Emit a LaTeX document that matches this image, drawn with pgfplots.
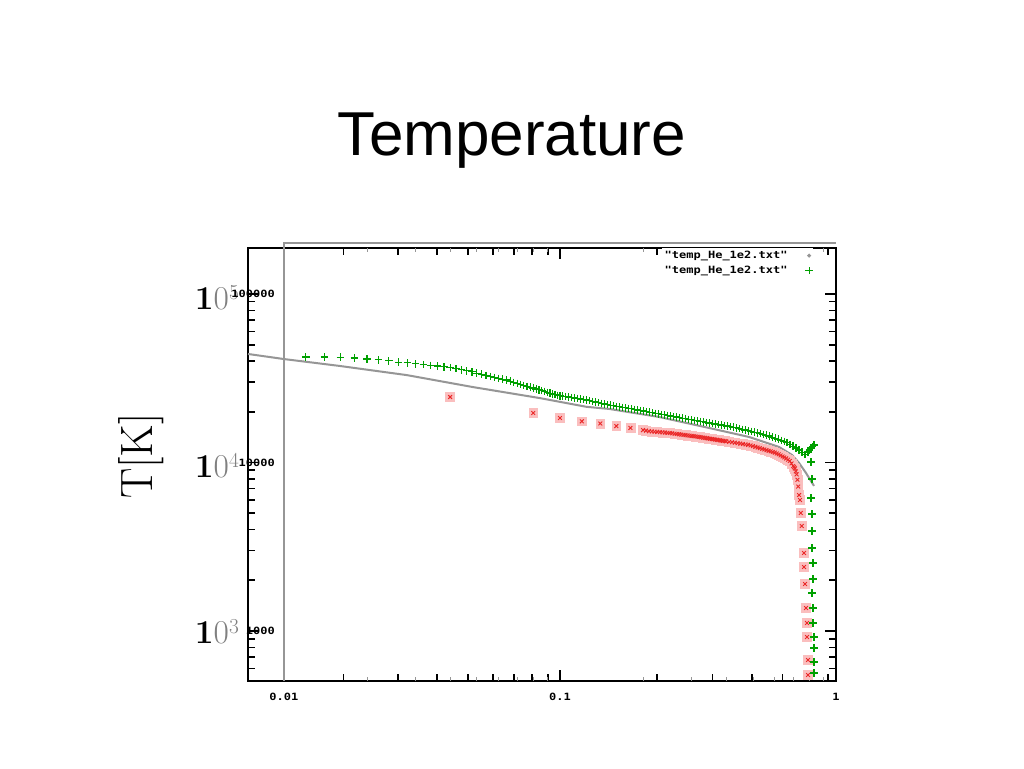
\documentclass[border=0pt]{standalone}
\usepackage{pgfplots}
\usepackage{pgfplotstable}
\pgfplotsset{compat=1.18}
\usepackage{fontspec}
\newfontfamily\titlefont{Liberation Sans}
\newfontfamily\gpfont[FakeStretch=1.2,Ligatures=TeXOff]{DejaVu Sans Mono Bold}

\definecolor{gpgreen}{RGB}{0,160,0}
\definecolor{gpred}{RGB}{235,40,40}
\definecolor{gppink}{RGB}{250,190,190}
\definecolor{gpgray}{RGB}{150,150,150}

\newcommand{\gp}{\gpfont\fontsize{7.5}{9}\selectfont}
\newcommand{\bigexp}[1]{\textbf{1}\textcolor{gray}{0}\raisebox{7.5pt}{\fontsize{16}{18}\selectfont\textcolor{gray}{#1}}}

% red series (boxed crosses)
\pgfplotstableread{
x y
0.04 24470
0.08 19670
0.10 18370
0.12 17550
0.14 17030
0.16 16450
0.18 16030
0.20 15570
0.205 15455
0.21 15340
0.215 15285
0.22 15230
0.225 15180
0.23 15130
0.235 15090
0.24 15050
0.245 15005
0.25 14960
0.255 14895
0.26 14830
0.265 14765
0.27 14700
0.275 14645
0.28 14590
0.285 14535
0.29 14480
0.295 14425
0.30 14370
0.305 14320
0.31 14270
0.315 14220
0.32 14170
0.325 14110
0.33 14050
0.335 13995
0.34 13940
0.345 13885
0.35 13830
0.355 13780
0.36 13730
0.365 13680
0.37 13630
0.375 13585
0.38 13540
0.385 13490
0.39 13440
0.395 13400
0.40 13355
0.41 13265
0.42 13180
0.43 13100
0.44 13020
0.45 12945
0.46 12870
0.47 12800
0.48 12730
0.49 12620
0.50 12510
0.51 12390
0.52 12270
0.53 12160
0.54 12050
0.55 11945
0.56 11840
0.57 11740
0.58 11640
0.59 11545
0.60 11450
0.61 11310
0.62 11170
0.63 11015
0.64 10860
0.65 10715
0.66 10570
0.67 10390
0.68 10210
0.69 9870
0.70 9530
0.705 9375
0.71 9220
0.715 8860
0.72 8500
0.725 7900
0.73 7200
0.735 6413
0.7407 5991
0.7457 5014
0.7519 4199
0.7662 2903
0.7662 2398
0.7726 1901
0.7788 1369
0.7853 1116
0.7853 921
0.7921 673
0.7921 548
}\redtab

\begin{document}
\begin{tikzpicture}
\fill[white] (0,0) rectangle (768pt,576pt);
\useasboundingbox (0,0) rectangle (768pt,576pt);

\node[anchor=base, font=\titlefont\fontsize{46.5}{52}\selectfont] at (384pt,459pt) {Temperature};
\node[rotate=90, anchor=base, font=\fontsize{34}{40}\selectfont] at (114pt,234pt) {T[K]};

% large exponent labels
\node[anchor=base west, inner sep=0pt, font=\fontsize{25}{30}\selectfont] at (146pt,343.5pt) {\bigexp{5}};
\node[anchor=base west, inner sep=0pt, font=\fontsize{25}{30}\selectfont] at (146pt,217.5pt) {\bigexp{4}};
\node[anchor=base west, inner sep=0pt, font=\fontsize{25}{30}\selectfont] at (146pt,93.75pt) {\bigexp{3}};

\begin{axis}[
  at={(186pt,65.25pt)}, anchor=south west,
  scale only axis, width=441pt, height=324.75pt,
  xmode=log, ymode=log,
  xmin=0.00741, xmax=1, ymin=505, ymax=187500,
  clip=false,
  tick pos=both,
  axis line style={line width=1.5pt},
  every tick/.style={black, line width=1.2pt},
  major tick length=8pt, minor tick length=5pt,
  xtick={0.01,0.1,1}, xticklabels={0.01,0.1,1},
  minor xtick={0.01646,0.0259,0.03593,0.04637,0.05706,0.06801,0.07912,0.09057,
               0.2248,0.3569,0.4952,0.6390,0.7863,0.9371},
  extra x ticks={0.02,0.03,0.04,0.05,0.06,0.07,0.08,0.09,0.2,0.3,0.4,0.5,0.6,0.7,0.8,0.9},
  extra x tick labels={},
  extra x tick style={major tick length=3pt, tick style={gpgray, line width=0.6pt}},
  ytick={1000,10000,100000}, yticklabels={1000,10000,100000},
  minor ytick={600,700,800,900,2000,3000,4000,5000,6000,7000,8000,9000,
               20000,30000,40000,50000,60000,70000,80000,90000},
  xticklabel style={font=\gp, inner sep=0pt, anchor=north, yshift=-9pt},
  yticklabel style={font=\gp, inner sep=0pt, anchor=east, xshift=20.25pt},
  legend style={draw=none, fill=white, at={(0.962,1.0)}, anchor=north east,
                font=\gp, inner sep=0pt, row sep=0pt, column sep=11pt, cells={anchor=east}},
  legend plot pos=right,
  legend cell align=right,
]

% red points: pink boxes first, crosses on top
\addplot[only marks, mark=square*, mark size=3.3pt,
  mark options={fill=gppink, draw=gppink}, forget plot] table {\redtab};
\addplot[only marks, mark=x, mark size=2pt, gpred, line width=0.7pt, forget plot] table {\redtab};

% grey curve
\addplot[gpgray, line width=1.5pt, mark=none,
  legend image code/.code={\fill[gpgray] (0.3cm,0cm) circle (0.6pt);}] table {
x y
0.00741 44060
0.0100 41100
0.01594 37400
0.0279 33000
0.0483 28040
0.0843 24130
0.1247 21400
0.151 20780
0.2289 18620
0.3473 16020
0.4844 14170
0.622 12360
0.6934 11080
0.735 9930
0.7788 8660
0.8323 7260
};
\addlegendentry{"temp\_He\_1e2.txt"}

% green crosses
\addplot[only marks, mark=+, gpgreen, mark size=2.8pt, line width=0.9pt,
  legend image code/.code={\draw[gpgreen, line width=0.8pt] (0.3cm-2.8pt,0cm) -- (0.3cm+2.8pt,0cm) (0.3cm,-2.8pt) -- (0.3cm,2.8pt);}] table {
x y
0.012 42300
0.014 42300
0.016 42200
0.018 41700
0.020 41100
0.022 40700
0.024 40100
0.026 39400
0.028 39000
0.030 38500
0.032 38050
0.034 37700
0.036 37350
0.038 36950
0.040 36550
0.042 36050
0.044 35500
0.046 35000
0.048 34500
0.050 33900
0.052 33400
0.054 32900
0.056 32400
0.058 32000
0.060 31600
0.062 31200
0.064 30900
0.066 30400
0.068 29900
0.070 29500
0.072 29100
0.074 28700
0.076 28300
0.078 28000
0.080 27700
0.082 27300
0.084 27000
0.086 26700
0.088 26400
0.090 26100
0.092 25800
0.094 25550
0.096 25300
0.098 25050
0.1000 24850
0.1023 24745
0.1047 24640
0.1074 24475
0.1101 24310
0.1129 24145
0.1157 23980
0.1186 23820
0.1216 23660
0.1247 23465
0.1278 23270
0.1311 23065
0.1344 22860
0.1378 22660
0.1413 22460
0.1449 22260
0.1485 22060
0.1523 21895
0.1561 21730
0.1601 21570
0.1641 21410
0.1683 21250
0.1725 21090
0.1769 20945
0.1814 20800
0.1860 20645
0.1907 20490
0.1955 20340
0.2004 20190
0.2055 20040
0.2107 19890
0.2160 19740
0.2215 19590
0.2271 19445
0.2329 19300
0.2388 19170
0.2448 19040
0.2510 18895
0.2573 18750
0.2638 18610
0.2705 18470
0.2774 18335
0.2844 18200
0.2916 18060
0.2990 17920
0.3065 17800
0.3143 17680
0.3222 17550
0.3304 17420
0.3387 17290
0.3473 17160
0.3561 17045
0.3651 16930
0.3743 16800
0.3838 16670
0.3935 16560
0.4035 16450
0.4137 16325
0.4241 16200
0.4349 16050
0.4459 15900
0.4572 15735
0.4687 15570
0.4806 15425
0.4927 15280
0.5052 15135
0.5180 14990
0.5311 14845
0.5445 14700
0.5583 14525
0.5724 14350
0.5869 14145
0.6018 13940
0.6170 13745
0.6326 13550
0.6486 13340
0.6650 13130
0.6818 12815
0.6991 12500
0.7168 12175
0.7349 11850
0.7535 11520
0.7726 11190
0.7921 11540
0.8022 11860
0.8122 12190
0.8225 12440
0.8327 12700
0.8122 10070
0.8190 7980
0.8122 6160
0.8190 4950
0.8190 3920
0.8190 3110
0.8259 2530
0.8259 2035
0.8190 1680
0.8259 1370
0.8259 1116
0.8327 921
0.8327 793
0.8327 655
0.8327 563
};
\addlegendentry{"temp\_He\_1e2.txt"}

% grey gnuplot border
\draw[gpgray, line width=1pt] (axis cs:0.01,505) -- (axis cs:0.01,200800) -- (axis cs:1,200800);
\end{axis}
\end{tikzpicture}
\end{document}
